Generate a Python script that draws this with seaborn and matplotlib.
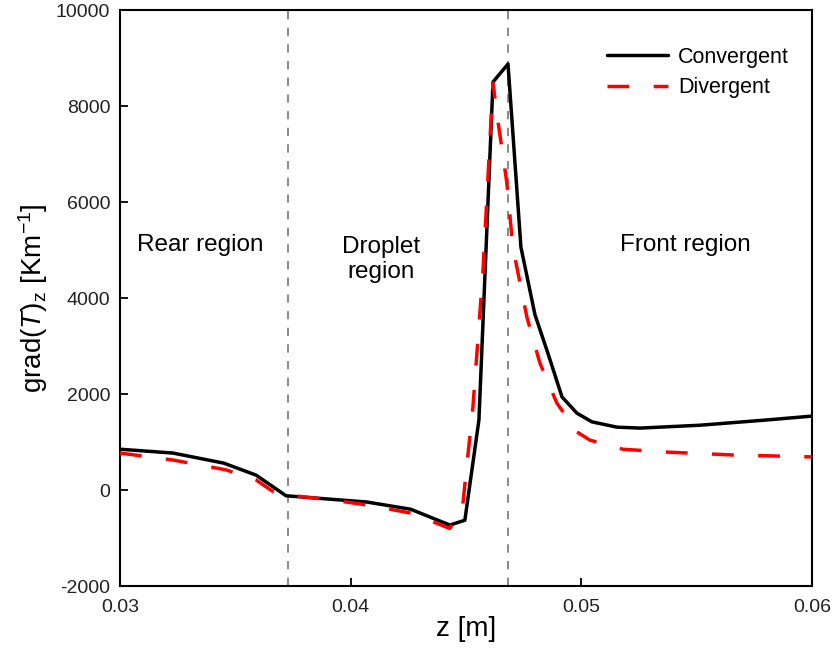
import numpy as np
import pandas as pd
import matplotlib
matplotlib.use("Agg")
import matplotlib.pyplot as plt
import seaborn as sns

z_conv = [0.0300, 0.0323, 0.0345, 0.0359, 0.0372, 0.0407, 0.0426, 0.0443, 0.04495, 0.04556,
          0.04617, 0.04682, 0.04738, 0.04799, 0.04855, 0.04916, 0.04981, 0.05046, 0.05154,
          0.05254, 0.05514, 0.05805, 0.0600]
g_conv = [850, 770, 560, 310, -120, -250, -400, -730, -630, 1460,
          8500, 8875, 5060, 3650, 2850, 1940, 1600, 1420, 1310,
          1290, 1350, 1460, 1540]

z_div = [0.0300, 0.0323, 0.0346, 0.0359, 0.0366, 0.0372, 0.0392, 0.0407, 0.0426, 0.0443,
         0.04485, 0.04530, 0.04573, 0.04617, 0.04638, 0.04677, 0.04703, 0.04764, 0.04820,
         0.04894, 0.04981, 0.05037, 0.05180, 0.05371, 0.05657, 0.0600]
g_div = [770, 625, 420, 210, -20, -100, -210, -310, -480, -800,
         -350, 1730, 4520, 8480, 7700, 6400, 5060, 3600, 2650,
         1810, 1210, 1040, 850, 790, 730, 690]

boundaries = [0.03728, 0.04682]
region_labels = ["Rear region", "Droplet\nregion", "Front region"]
region_x = [0.0335, 0.0413, 0.0545]
region_y = [5100, 4800, 5100]
series_names = ["Convergent", "Divergent"]

df = pd.concat([
    pd.DataFrame({"z": z_conv, "g": g_conv, "case": series_names[0]}),
    pd.DataFrame({"z": z_div, "g": g_div, "case": series_names[1]}),
])

sns.set_style("ticks")
plt.rcParams['font.family'] = ['Liberation Sans', 'DejaVu Sans']
plt.rcParams['mathtext.fontset'] = 'custom'
plt.rcParams['mathtext.rm'] = 'Liberation Sans'
plt.rcParams['mathtext.it'] = 'Liberation Sans:italic'
plt.rcParams['axes.unicode_minus'] = False
for k in ['text.color', 'axes.labelcolor', 'xtick.color', 'ytick.color', 'axes.edgecolor']:
    plt.rcParams[k] = 'black'

fig = plt.figure(figsize=(8.35, 6.67), dpi=100)
ax = fig.add_axes([0.1437, 0.1214, 0.8288, 0.8636])

for b in boundaries:
    ax.axvline(b, color="#777777", lw=1.2, ls=(0, (5, 5)), zorder=1)

sns.lineplot(data=df, x="z", y="g", hue="case", style="case",
             palette={"Convergent": "black", "Divergent": "red"},
             dashes={"Convergent": "", "Divergent": (6.3, 7.0)},
             sort=False, estimator=None, lw=2.5, ax=ax, zorder=3)

ax.set_xlim(0.03, 0.06)
ax.set_ylim(-2000, 10000)
ax.set_xticks([0.03, 0.04, 0.05, 0.06])
ax.set_xticklabels(["0.03", "0.04", "0.05", "0.06"])
ax.set_yticks(np.arange(-2000, 10001, 2000))
ax.tick_params(direction="in", labelsize=14, width=1.3, length=6, labelcolor="#222222")
ax.tick_params(axis="x", pad=9)
ax.tick_params(axis="y", pad=7)
for s in ax.spines.values():
    s.set_linewidth(1.5)

ax.set_xlabel("z [m]", fontsize=20, labelpad=0)
ax.set_ylabel(r"grad($\mathit{T}$)$_{\mathrm{z}}$ [Km$^{\mathrm{-1}}$]", fontsize=20, labelpad=4)

for lab, x, y in zip(region_labels, region_x, region_y):
    ax.text(x, y, lab, fontsize=17.5, ha="center", va="center", linespacing=1.15)

leg = ax.legend(loc="upper right", frameon=False, fontsize=15.5, handlelength=2.8,
                handletextpad=0.5, bbox_to_anchor=(0.995, 0.97), labelspacing=0.45)
leg.set_title(None)

fig.savefig("out.png", dpi=100)
